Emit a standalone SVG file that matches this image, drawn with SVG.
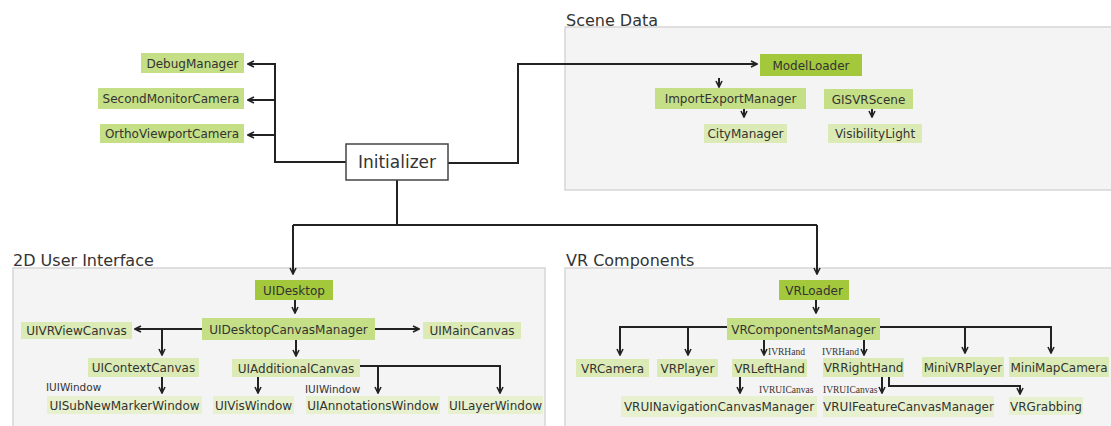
<svg xmlns="http://www.w3.org/2000/svg" width="1111" height="426" viewBox="0 0 1111 426">
<style>
.bg{fill:#ffffff}
.sec{fill:#f4f4f4;stroke:#d6d6d6;stroke-width:1.5}
.st{font-family:"DejaVu Sans",Verdana,sans-serif;font-size:16px;fill:#333}
.d{fill:#a3c83c}
.m{fill:#c5df86}
.l{fill:#dcebb5}
.x{fill:#e7f1d0}
.t{font-family:"DejaVu Sans",Verdana,sans-serif;font-size:12px;fill:#333;text-anchor:middle}
.it{font-family:"DejaVu Sans",Verdana,sans-serif;font-size:17px;fill:#333;text-anchor:middle}
.lb{font-family:"DejaVu Sans",Verdana,sans-serif;font-size:10.5px;fill:#333}
.sl{font-family:"Liberation Serif","Times New Roman",serif;font-size:9.5px;fill:#333}
.c{fill:none;stroke:#222;stroke-width:2}
.a{marker-end:url(#ah)}
</style>
<defs>
<marker id="ah" viewBox="0 0 8 8" refX="7" refY="4" markerWidth="4" markerHeight="4" orient="auto" markerUnits="strokeWidth">
<path d="M1,1 L7,4 L1,7" fill="none" stroke="#222" stroke-width="1.6"/>
</marker>
</defs>
<rect class="bg" x="0" y="0" width="1111" height="426"/>

<g id="section-scene">
<rect class="sec" x="565" y="27" width="560" height="163"/>
<text class="st" x="566" y="26">Scene Data</text>
</g>
<g id="section-ui">
<rect class="sec" x="13" y="268" width="532" height="170"/>
<text class="st" x="13" y="266">2D User Interface</text>
</g>
<g id="section-vr">
<rect class="sec" x="565" y="268" width="560" height="170"/>
<text class="st" x="566" y="266">VR Components</text>
</g>

<g id="connectors">
<path class="c a" d="M346,162 H275 V64 H248"/>
<path class="c a" d="M275,100 H248"/>
<path class="c a" d="M275,135 H248"/>
<path class="c a" d="M448,163 H518 V64 H757"/>
<path class="c" d="M397,180 V225 M293,225 H817"/>
<path class="c a" d="M293,225 V274"/>
<path class="c a" d="M817,225 V274"/>
<path class="c a" d="M719,78 V87"/>
<path class="c a" d="M744,109 V117"/>
<path class="c a" d="M872,109 V117"/>
<path class="c a" d="M295,300 V313"/>
<path class="c a" d="M202,329 H135"/>
<path class="c a" d="M162,329 V355"/>
<path class="c a" d="M375,329 H419"/>
<path class="c a" d="M296,340 V356"/>
<path class="c a" d="M162,377 V393"/>
<path class="c a" d="M258,377 V393"/>
<path class="c a" d="M360,366 H500 V393"/>
<path class="c a" d="M378,366 V393"/>
<path class="c a" d="M816,300 V313"/>
<path class="c a" d="M727,327 H620 V355"/>
<path class="c a" d="M688,327 V355"/>
<path class="c a" d="M764,340 V355"/>
<path class="c a" d="M864,340 V355"/>
<path class="c a" d="M880,327 H1051 V353"/>
<path class="c a" d="M965,327 V353"/>
<path class="c a" d="M740,377 V393"/>
<path class="c a" d="M882,377 V393"/>
<path class="c a" d="M889,377 V386 H1020 V394"/>
</g>

<g id="labels">
<text class="lb" x="46" y="391">IUIWindow</text>
<text class="lb" x="305" y="393">IUIWindow</text>
<text class="sl" x="768" y="355">IVRHand</text>
<text class="sl" x="822" y="355">IVRHand</text>
<text class="sl" x="759" y="393">IVRUICanvas</text>
<text class="sl" x="823" y="393">IVRUICanvas</text>
</g>

<g id="DebugManager"><rect class="m" x="141" y="53" width="103" height="20"/><text class="t" x="192.5" y="67.5">DebugManager</text></g>
<g id="SecondMonitorCamera"><rect class="m" x="98" y="88" width="146" height="21"/><text class="t" x="171" y="103">SecondMonitorCamera</text></g>
<g id="OrthoViewportCamera"><rect class="m" x="100" y="124" width="144" height="19"/><text class="t" x="172" y="138">OrthoViewportCamera</text></g>
<g id="Initializer"><rect x="346" y="144" width="102" height="36" fill="#fff" stroke="#444" stroke-width="1.5"/><text class="it" x="397" y="168">Initializer</text></g>

<g id="ModelLoader"><rect class="d" x="760" y="54" width="102" height="22"/><text class="t" x="811" y="69.5">ModelLoader</text></g>
<g id="ImportExportManager"><rect class="m" x="655" y="88" width="151" height="21"/><text class="t" x="730.5" y="103">ImportExportManager</text></g>
<g id="GISVRScene"><rect class="m" x="824" y="89" width="89" height="20"/><text class="t" x="868.5" y="103.5">GISVRScene</text></g>
<g id="CityManager"><rect class="l" x="704" y="124" width="83" height="19"/><text class="t" x="745.5" y="138">CityManager</text></g>
<g id="VisibilityLight"><rect class="l" x="828" y="124" width="94" height="19"/><text class="t" x="875" y="138">VisibilityLight</text></g>

<g id="UIDesktop"><rect class="d" x="255" y="280" width="78" height="20"/><text class="t" x="294" y="294.5">UIDesktop</text></g>
<g id="UIDesktopCanvasManager"><rect class="m" x="202" y="318" width="173" height="22"/><text class="t" x="288.5" y="333.5">UIDesktopCanvasManager</text></g>
<g id="UIVRViewCanvas"><rect class="l" x="21" y="322" width="111" height="17"/><text class="t" x="76.5" y="335">UIVRViewCanvas</text></g>
<g id="UIMainCanvas"><rect class="l" x="423" y="322" width="98" height="17"/><text class="t" x="472" y="335">UIMainCanvas</text></g>
<g id="UIContextCanvas"><rect class="l" x="88" y="358" width="111" height="19"/><text class="t" x="143.5" y="372">UIContextCanvas</text></g>
<g id="UIAdditionalCanvas"><rect class="l" x="232" y="359" width="128" height="18"/><text class="t" x="296" y="372.5">UIAdditionalCanvas</text></g>
<g id="UISubNewMarkerWindow"><rect class="x" x="47" y="396" width="155" height="18"/><text class="t" x="124.5" y="409.5">UISubNewMarkerWindow</text></g>
<g id="UIVisWindow"><rect class="x" x="213" y="396" width="81" height="18"/><text class="t" x="253.5" y="409.5">UIVisWindow</text></g>
<g id="UIAnnotationsWindow"><rect class="x" x="306" y="396" width="134" height="18"/><text class="t" x="373" y="409.5">UIAnnotationsWindow</text></g>
<g id="UILayerWindow"><rect class="x" x="448" y="396" width="95" height="18"/><text class="t" x="495.5" y="409.5">UILayerWindow</text></g>

<g id="VRLoader"><rect class="d" x="779" y="280" width="70" height="20"/><text class="t" x="814" y="294.5">VRLoader</text></g>
<g id="VRComponentsManager"><rect class="m" x="727" y="318" width="153" height="22"/><text class="t" x="803.5" y="333.5">VRComponentsManager</text></g>
<g id="VRCamera"><rect class="l" x="576" y="359" width="73" height="18"/><text class="t" x="612.5" y="372.5">VRCamera</text></g>
<g id="VRPlayer"><rect class="l" x="657" y="359" width="61" height="18"/><text class="t" x="687.5" y="372.5">VRPlayer</text></g>
<g id="VRLeftHand"><rect class="l" x="732" y="359" width="75" height="18"/><text class="t" x="769.5" y="372.5">VRLeftHand</text></g>
<g id="VRRightHand"><rect class="l" x="823" y="358" width="81" height="19"/><text class="t" x="863.5" y="372">VRRightHand</text></g>
<g id="MiniVRPlayer"><rect class="l" x="922" y="357" width="82" height="20"/><text class="t" x="963" y="371.5">MiniVRPlayer</text></g>
<g id="MiniMapCamera"><rect class="l" x="1009" y="357" width="100" height="20"/><text class="t" x="1059" y="371.5">MiniMapCamera</text></g>
<g id="VRUINavigationCanvasManager"><rect class="x" x="621" y="396" width="196" height="21"/><text class="t" x="719" y="411">VRUINavigationCanvasManager</text></g>
<g id="VRUIFeatureCanvasManager"><rect class="x" x="823" y="396" width="171" height="21"/><text class="t" x="908.5" y="411">VRUIFeatureCanvasManager</text></g>
<g id="VRGrabbing"><rect class="x" x="1009" y="397" width="74" height="18"/><text class="t" x="1046" y="410.5">VRGrabbing</text></g>
</svg>
